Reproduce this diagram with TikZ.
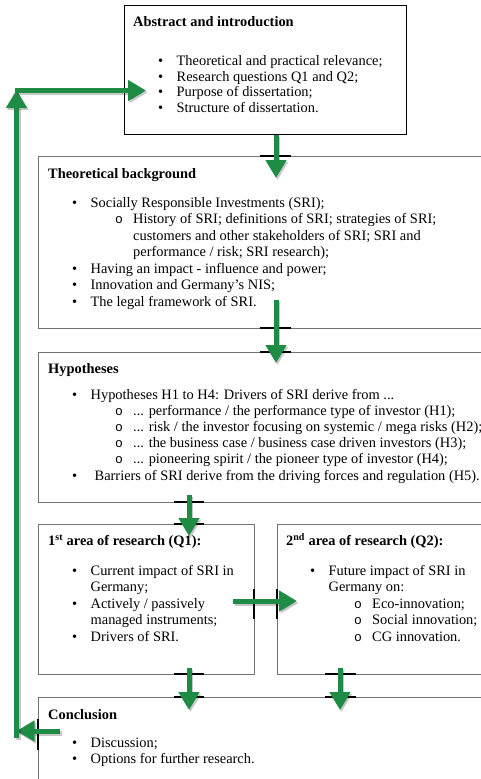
\documentclass[tikz,border=0pt]{standalone}
\usepackage{fontspec}
\setmainfont{Liberation Serif}
\newfontfamily\monof{Liberation Mono}
\usetikzlibrary{arrows.meta,calc}
\definecolor{garr}{HTML}{1E8C45}
\newcommand\bl{\makebox[18.5pt][l]{\textbullet}}
\newcommand\bc{\hspace*{18.5pt}}
\newcommand\ob{\makebox[18pt][l]{\monof\fontsize{13}{13}\selectfont o}}
\newcommand\sbl{\hspace*{43pt}\ob}
\newcommand\sbc{\hspace*{61pt}}
\tikzset{
  box/.style={draw=black!55, line width=1pt, anchor=north west, inner sep=0pt, fill=white},
  ttl/.style={anchor=base west, inner sep=0pt, font=\fontsize{14.4}{16}\selectfont\bfseries},
  body/.style={anchor=base west, inner sep=0pt, font=\fontsize{14.4}{#1}\selectfont},
  body/.default=16,
  garrow/.style={draw=garr, line width=5pt, -{Triangle[width=20pt,length=18pt]}},
  gshadow/.style={draw=black, opacity=0.22, line width=5pt, -{Triangle[width=20pt,length=18pt]}, transform canvas={shift={(1.5pt,-2pt)}}},
  tickmark/.style={draw=black, line width=2pt},
}
\newcommand\garrowline[2]{\draw[gshadow] #1 -- #2; \draw[garrow] #1 -- #2;}
\begin{document}
\begin{tikzpicture}[x=1pt,y=-1pt]
\useasboundingbox (0,0) rectangle (481,779);
\clip (0,0) rectangle (481,779);
% boxes
\node[box, draw=black, minimum width=282pt, minimum height=129pt] (abs) at (124,5) {};
\node[box, minimum width=470pt, minimum height=172pt] (theo) at (38,156) {};
\node[box, minimum width=470pt, minimum height=150pt] (hyp) at (38,352) {};
\node[box, minimum width=216pt, minimum height=150pt] (first) at (38,524) {};
\node[box, minimum width=230pt, minimum height=150pt] (second) at (277,524) {};
\node[box, minimum width=470pt, minimum height=120pt] (concl) at (38,697) {};
% titles
\node[ttl] (absT) at (133,26.7) {Abstract and introduction};
\node[ttl] (theoT) at (48,178.3) {Theoretical background};
\node[ttl] (hypT) at (48,373.3) {Hypotheses};
\node[ttl] (firstT) at (48,545.7) {1\textsuperscript{st} area of research (Q1):};
\node[ttl] (secondT) at (286,545.7) {2\textsuperscript{nd} area of research (Q2):};
\node[ttl] (conclT) at (48,719.3) {Conclusion};
% bodies
\node[body=15.5] (absB) at (158,65.5) {\begin{tabular}[t]{@{}l@{}}
\bl Theoretical and practical relevance;\\
\bl Research questions Q1 and Q2;\\
\bl Purpose of dissertation;\\
\bl Structure of dissertation.
\end{tabular}};
\node[body=16.5] (theoB) at (72,207) {\begin{tabular}[t]{@{}l@{}}
\bl Socially Responsible Investments (SRI);\\
\sbl History of SRI; definitions of SRI; strategies of SRI;\\
\sbc customers and other stakeholders of SRI; SRI and\\
\sbc performance / risk; SRI research);\\
\bl Having an impact - influence and power;\\
\bl Innovation and Germany’s NIS;\\
\bl The legal framework of SRI.
\end{tabular}};
\node[body=16.1] (hypB) at (72,399.5) {\begin{tabular}[t]{@{}l@{}}
\bl Hypotheses H1 to H4: Drivers of SRI derive from ...\\
\sbl ... performance / the performance type of investor (H1);\\
\sbl ... risk / the investor focusing on systemic / mega risks (H2);\\
\sbl ... the business case / business case driven investors (H3);\\
\sbl ... pioneering spirit / the pioneer type of investor (H4);\\
\bl\hspace*{4pt}Barriers of SRI derive from the driving forces and regulation (H5).
\end{tabular}};
\node[body=16.5] (firstB) at (72,575) {\begin{tabular}[t]{@{}l@{}}
\bl Current impact of SRI in\\
\bc Germany;\\
\bl Actively / passively\\
\bc managed instruments;\\
\bl Drivers of SRI.
\end{tabular}};
\node[body=16.5] (secondB) at (310,575) {\begin{tabular}[t]{@{}l@{}}
\bl Future impact of SRI in\\
\bc Germany on:\\
\hspace*{44pt}\ob Eco-innovation;\\
\hspace*{44pt}\ob Social innovation;\\
\hspace*{44pt}\ob CG innovation.
\end{tabular}};
\node[body=15.8] (conclB) at (72,747.5) {\begin{tabular}[t]{@{}l@{}}
\bl Discussion;\\
\bl Options for further research.
\end{tabular}};
% ticks on borders
\draw[tickmark] (260,156) -- (291,156);
\draw[tickmark] (260,328) -- (291,328);
\draw[tickmark] (260,352) -- (291,352);
\draw[tickmark] (174,502) -- (204,502);
\draw[tickmark] (174,524) -- (204,524);
\draw[tickmark] (254,589) -- (254,619);
\draw[tickmark] (277,589) -- (277,619);
\draw[tickmark] (174,674) -- (204,674);
\draw[tickmark] (174,697) -- (204,697);
\draw[tickmark] (325,674) -- (356,674);
\draw[tickmark] (325,697) -- (356,697);
\draw[tickmark] (38,719) -- (38,750);
% connector coordinates
\coordinate (cA) at ($(abs.south)+(10.5,0)$);
\coordinate (cB) at (189,0);
\coordinate (cC) at (340,0);
\coordinate (cD) at (0,601);
\coordinate (cE) at (0,731);
\coordinate (loopB) at (16.5,738);
\coordinate (loopT) at (16.5,90);
\coordinate (loopC) at (15,90.5);
% arrows
\garrowline{(cA)}{($(cA |- theo.north)+(0,22)$)}
\garrowline{($(cA |- theo.south)+(0,-29)$)}{($(cA |- hyp.north)+(0,11)$)}
\garrowline{($(cB |- hyp.south)+(0,-8)$)}{($(cB |- first.north)+(0,12)$)}
\garrowline{($(cD -| first.east)+(-22,0)$)}{($(cD -| second.west)+(20,0)$)}
\garrowline{($(cB |- first.south)+(0,-7)$)}{($(cB |- concl.north)+(0,13)$)}
\garrowline{($(cC |- second.south)+(0,-7)$)}{($(cC |- concl.north)+(0,13)$)}
\garrowline{($(cE -| concl.west)+(22,0)$)}{(loopB |- cE)}
\garrowline{(loopB)}{(loopT)}
\garrowline{(loopC)}{($(loopC -| abs.west)+(22,0)$)}
\end{tikzpicture}
\end{document}
